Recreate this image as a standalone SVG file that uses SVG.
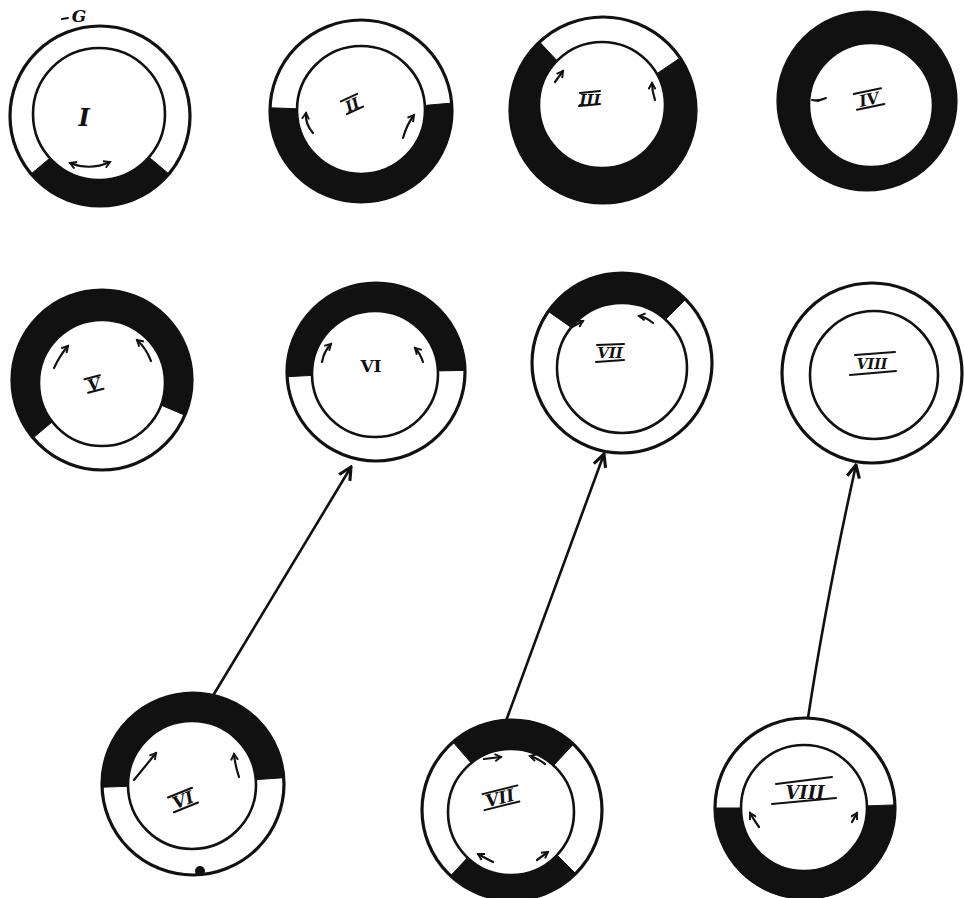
<svg xmlns="http://www.w3.org/2000/svg" width="964" height="898" viewBox="0 0 964 898">
  <style>
    .outer { fill: #fff; stroke: #111; stroke-width: 3.2; }
    .inner { fill: #fff; stroke: #111; stroke-width: 2.6; }
    .solid { fill: #111; stroke: #111; stroke-width: 1; }
    .tick { fill: none; stroke: #111; stroke-width: 2.2; stroke-linecap: round; marker-end: url(#tip); }
    .link { fill: none; stroke: #111; stroke-width: 2.6; stroke-linecap: round; marker-end: url(#head); }
    .num { font-family: "DejaVu Serif", "Liberation Serif", serif; font-style: italic; font-weight: bold; fill: #111; text-anchor: middle; }
    .bar { stroke: #111; stroke-width: 2; stroke-linecap: round; }
  </style>
  <defs>
    <marker id="tip" viewBox="0 0 10 10" refX="8" refY="5" markerWidth="4" markerHeight="4" orient="auto-start-reverse">
      <path d="M1,1 L8,5 L1,9" fill="none" stroke="#111" stroke-width="2.2"/>
    </marker>
    <marker id="head" viewBox="0 0 10 10" refX="9" refY="5" markerWidth="6" markerHeight="6" orient="auto">
      <path d="M1,1 L9,5 L1,9" fill="none" stroke="#111" stroke-width="2"/>
    </marker>
  </defs>
  <rect width="964" height="898" fill="#fff"/>

  <!-- Row 1 -->
  <g id="ring-1">
    <circle class="outer" cx="100" cy="116" r="90"/>
    <path class="solid" d="M100,116 L168.9,173.9 A90,90 0 0 1 31.1,173.9 Z"/>
    <circle class="inner" cx="99" cy="114" r="66"/>
    <path d="M70,163 Q90,171 110,162" fill="none" stroke="#111" stroke-width="2.2" marker-start="url(#tip)" marker-end="url(#tip)"/>
    <text class="num" x="84" y="126" font-size="24">I</text>
    <text class="num" x="79" y="22" font-size="17">G</text>
    <path class="bar" d="M62,19 L68,18"/>
  </g>

  <g id="ring-2">
    <circle class="outer" cx="361" cy="111" r="91"/>
    <path class="solid" d="M361,111 L451.7,103.1 A91,91 0 1 1 270.1,107.8 Z"/>
    <circle class="inner" cx="361" cy="110" r="64"/>
    <path class="tick" d="M313,133 Q305,124 306,113"/>
    <path class="tick" d="M403,138 Q407,124 414,115"/>
    <g transform="rotate(-25 352 104)">
      <text class="num" x="352" y="110" font-size="15">II</text>
      <path class="bar" d="M343,97 L361,97 M343,111 L361,111"/>
    </g>
  </g>

  <g id="ring-3">
    <circle class="outer" cx="603" cy="110" r="93"/>
    <path class="solid" d="M603,110 L680.1,58 A93,93 0 1 1 539.6,42 Z"/>
    <circle class="inner" cx="602" cy="105" r="63"/>
    <path class="tick" d="M555,82 L563,71"/>
    <path class="tick" d="M655,100 Q652,91 652,83"/>
    <text class="num" x="590" y="105" font-size="15">III</text>
    <path class="bar" d="M580,93 L600,91 M579,106 L600,104"/>
  </g>

  <g id="ring-4">
    <circle class="outer" cx="867" cy="101" r="89" style="fill:#111"/>
    <circle class="inner" cx="871" cy="105" r="62"/>
    <g transform="rotate(-12 869 99)">
      <text class="num" x="869" y="105" font-size="16">IV</text>
      <path class="bar" d="M855,91 L883,91 M855,107 L883,107"/>
    </g>
    <path class="bar" d="M812,100 L818,101 L826,98"/>
  </g>

  <!-- Row 2 -->
  <g id="ring-5">
    <circle class="outer" cx="102" cy="380" r="90"/>
    <path class="solid" d="M102,380 L33.1,437.9 A90,90 0 1 1 184.8,415.2 Z"/>
    <circle class="inner" cx="102" cy="383" r="63"/>
    <path class="tick" d="M54,368 Q60,355 68,346"/>
    <path class="tick" d="M151,361 Q146,348 137,340"/>
    <g transform="rotate(-15 94 384)">
      <text class="num" x="94" y="390" font-size="16">V</text>
      <path class="bar" d="M86,377 L102,377 M86,391 L102,391"/>
    </g>
  </g>

  <g id="ring-6">
    <circle class="outer" cx="376" cy="372" r="89"/>
    <path class="solid" d="M376,372 L287.1,376.7 A89,89 0 1 1 465,370.4 Z"/>
    <circle class="inner" cx="375" cy="374" r="63"/>
    <path class="tick" d="M322,362 Q324,351 331,344"/>
    <path class="tick" d="M423,362 Q420,353 415,348"/>
    <text class="num" x="371" y="372" font-size="17" style="font-style:normal">VI</text>
  </g>

  <g id="ring-7">
    <circle class="outer" cx="622" cy="363" r="90"/>
    <path class="solid" d="M622,363 L548.3,311.4 A90,90 0 0 1 685.6,299.4 Z"/>
    <circle class="inner" cx="622" cy="368" r="65"/>
    <path class="tick" d="M572,327 L583,321"/>
    <path class="tick" d="M653,323 Q646,317 639,316"/>
    <text class="num" x="610" y="358" font-size="15">VII</text>
    <path class="bar" d="M597,345 L624,344 M596,362 L624,360"/>
  </g>

  <g id="ring-8">
    <circle class="outer" cx="872" cy="373" r="90"/>
    <circle class="inner" cx="874" cy="375" r="64"/>
    <text class="num" x="872" y="369" font-size="14">VIII</text>
    <path class="bar" d="M855,355 L895,352 M850,375 L896,371"/>
  </g>

  <!-- Row 3 -->
  <g id="ring-9">
    <circle class="outer" cx="193" cy="784" r="91"/>
    <path class="solid" d="M193,784 L102.1,787.2 A91,91 0 0 1 283.8,777.7 Z"/>
    <circle class="inner" cx="192" cy="785" r="64"/>
    <path class="tick" d="M134,780 L156,753"/>
    <path class="tick" d="M239,777 Q235,765 234,754"/>
    <g transform="rotate(-22 183 800)">
      <text class="num" x="183" y="806" font-size="17">VI</text>
      <path class="bar" d="M170,792 L196,792 M170,808 L196,808"/>
    </g>
    <circle cx="200" cy="871" r="5" fill="#111"/>
  </g>

  <g id="ring-10">
    <circle class="outer" cx="512" cy="810" r="90"/>
    <path class="solid" d="M512,810 L453,742.1 A90,90 0 0 1 573.4,744.2 Z"/>
    <path class="solid" d="M512,810 L575.6,873.6 A90,90 0 0 1 450.6,875.8 Z"/>
    <circle class="inner" cx="511" cy="812" r="63"/>
    <path class="tick" d="M484,759 L501,757"/>
    <path class="tick" d="M545,764 Q537,758 530,756"/>
    <path class="tick" d="M493,862 Q485,858 478,854"/>
    <path class="tick" d="M537,860 L548,852"/>
    <g transform="rotate(-14 500 798)">
      <text class="num" x="500" y="804" font-size="17">VII</text>
      <path class="bar" d="M484,790 L520,790 M482,806 L518,806"/>
    </g>
  </g>

  <g id="ring-11">
    <circle class="outer" cx="805" cy="808" r="90"/>
    <path class="solid" d="M805,808 L894.9,804.9 A90,90 0 1 1 715,808 Z"/>
    <circle class="inner" cx="804" cy="808" r="63"/>
    <path class="tick" d="M759,827 Q754,820 750,813"/>
    <path class="tick" d="M852,822 L857,813"/>
    <text class="num" x="805" y="799" font-size="18">VIII</text>
    <path class="bar" d="M776,784 L832,777 M772,804 L836,798"/>
  </g>

  <!-- Connectors -->
  <g id="connectors">
    <path class="link" d="M214,694 L351,467"/>
    <path class="link" d="M506,721 L604,454"/>
    <path class="link" d="M808,718 Q826,600 856,465"/>
  </g>
</svg>
